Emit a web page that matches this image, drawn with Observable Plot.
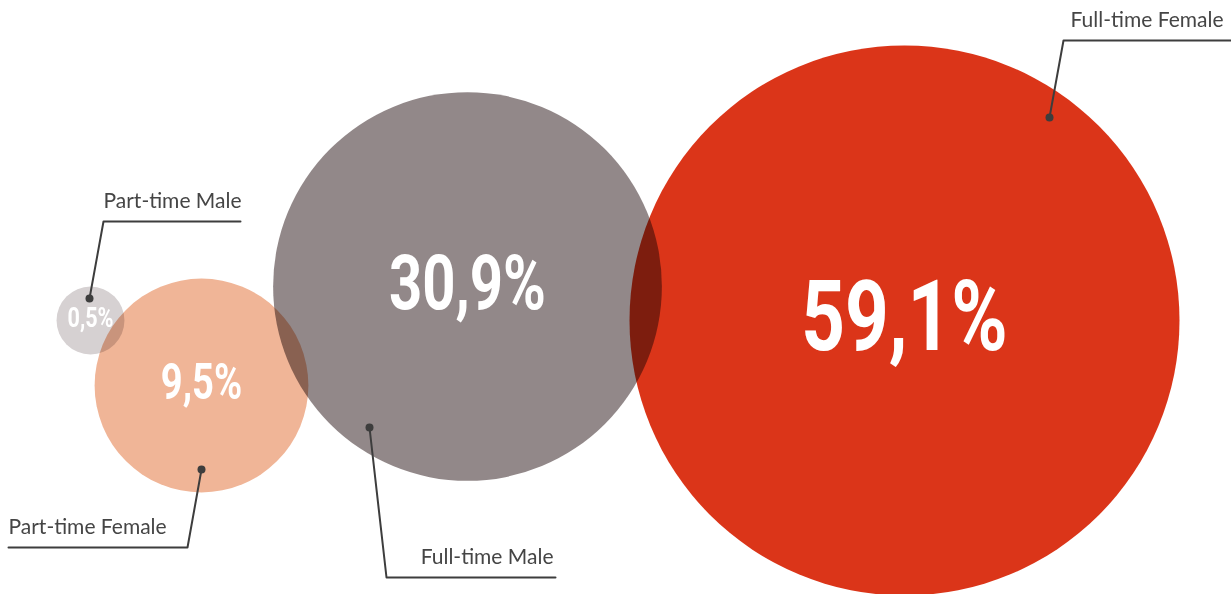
<!DOCTYPE html>
<html>
<head>
<meta charset="utf-8">
<script src="https://cdn.jsdelivr.net/npm/d3@7"></script>
<script src="https://cdn.jsdelivr.net/npm/@observablehq/plot@0.6"></script>
<style>
  html, body { margin: 0; padding: 0; background: #ffffff; }
  #chart svg { display: block; background: #ffffff; }
  #chart .bubbles circle { mix-blend-mode: multiply; }
</style>
</head>
<body>
<div id="chart"></div>
<script>
// ---- data ----
const categories = ["Part-time Male", "Part-time Female", "Full-time Male", "Full-time Female"];
const shares = [0.5, 9.5, 30.9, 59.1];
const shareLabels = ["0,5%", "9,5%", "30,9%", "59,1%"];

// ---- layout (chart units) ----
const centerX = [90, 201, 467, 904];
const centerY = [320, 385, 286, 320];
const pinX = [89, 201, 369, 1049];
const pinY = [298, 469, 427, 117];
const elbowX = [103, 187, 386, 1063];
const elbowY = [221, 547, 577, 40];
const lineEndX = [240, 8, 555, 1230];
const labelX = [103, 8, 553, 1223];
const labelAlign = ["start", "start", "end", "end"];

const palette = ["#d6d1d2", "#f0b597", "#928889", "#db3519"];

const bubbles = categories.map((c, i) => ({category: c, share: shares[i], label: shareLabels[i], x: centerX[i], y: centerY[i]}));
const leaderPts = categories.flatMap((c, i) => [
  {category: c, x: pinX[i], y: pinY[i]},
  {category: c, x: elbowX[i], y: elbowY[i]},
  {category: c, x: lineEndX[i], y: elbowY[i]}
]);
const pins = categories.map((c, i) => ({category: c, x: pinX[i], y: pinY[i]}));
const names = categories.map((c, i) => ({category: c, x: labelX[i], y: elbowY[i], align: labelAlign[i]}));

const rScale = {type: "pow", exponent: 0.58, domain: [0, 59.1], range: [17.8, 275]};
const rFn = v => rScale.range[0] + Math.pow(v / 59.1, 0.58) * (rScale.range[1] - rScale.range[0]);

const ink = "#3d3d3d";
const pctFont = "Roboto, 'Liberation Sans', sans-serif";
const condense = 0.77;

const plot = Plot.plot({
  width: 1231,
  height: 594,
  margin: 0,
  x: {domain: [0, 1231], range: [0, 1231], axis: null},
  y: {domain: [0, 594], range: [0, 594], axis: null},
  r: rScale,
  color: {domain: categories, range: palette},
  marks: [
    Plot.dot(bubbles, {x: "x", y: "y", r: "share", fill: "category", stroke: null, className: "bubbles"}),
    Plot.text(bubbles, {
      x: "x", y: "y", text: "label", fill: "white",
      fontSize: d => 18 + 0.295 * rFn(d.share),
      fontWeight: "bold", fontFamily: pctFont,
      textAnchor: "middle", lineAnchor: "middle", dy: -2, className: "pct"
    }),
    Plot.line(leaderPts, {x: "x", y: "y", z: "category", stroke: ink, strokeWidth: 2, curve: "linear"}),
    Plot.dot(pins, {x: "x", y: "y", r: 4, fill: ink, stroke: null}),
    Plot.text(names.filter(d => d.align === "start"), {
      x: "x", y: "y", text: "category", textAnchor: "start", lineAnchor: "middle", dy: -20,
      fill: "#454545", fontSize: 21, fontFamily: "Lato, 'Open Sans', sans-serif"
    }),
    Plot.text(names.filter(d => d.align === "end"), {
      x: "x", y: "y", text: "category", textAnchor: "end", lineAnchor: "middle", dy: -20,
      fill: "#454545", fontSize: 21, fontFamily: "Lato, 'Open Sans', sans-serif"
    })
  ]
});
document.getElementById("chart").appendChild(plot);
const svg = d3.select(plot);
svg.selectAll(".bubbles circle").style("mix-blend-mode", "multiply");
svg.selectAll(".pct text").each(function () {
  const t = d3.select(this);
  const tr = t.attr("transform") || "";
  t.attr("transform", tr + ` scale(${condense},1)`);
});
</script>
</body>
</html>
